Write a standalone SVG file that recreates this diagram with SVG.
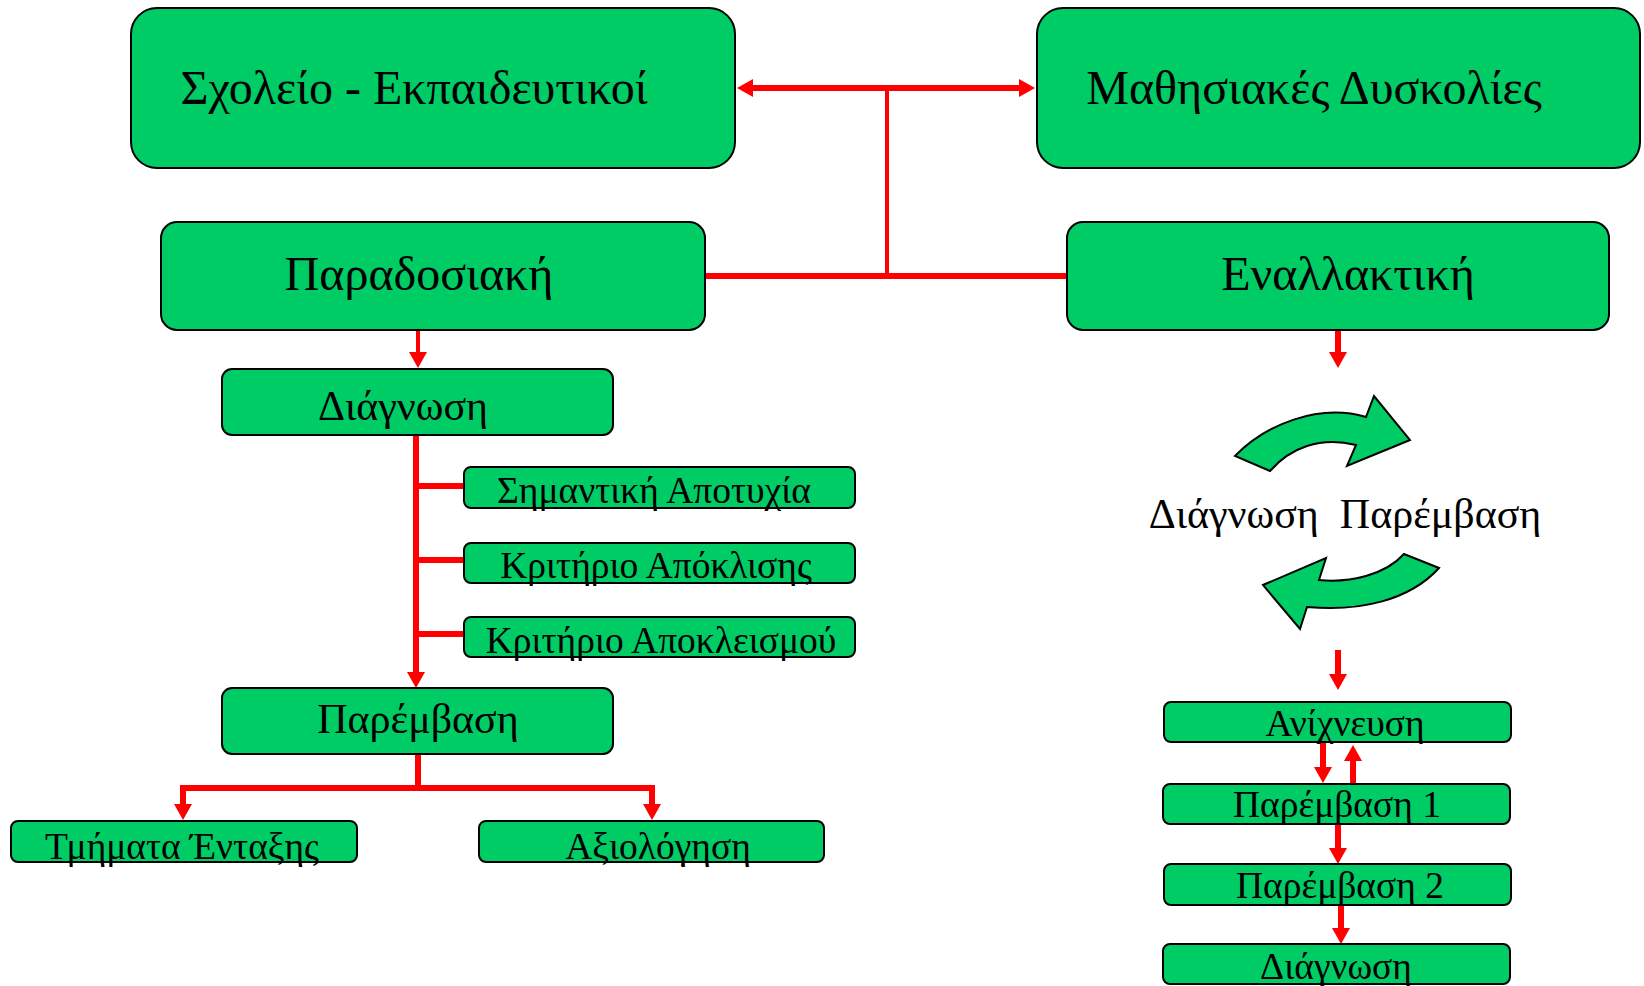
<svg xmlns="http://www.w3.org/2000/svg" width="1644" height="986" viewBox="0 0 1644 986">
<defs>
<style>
.box{fill:#00CC66;stroke:#000;stroke-width:2}
.t{font-family:"Liberation Serif","Times New Roman",serif;fill:#000;text-anchor:middle}
.big{font-size:48px}
.mid{font-size:42px}
.sm{font-size:37.5px}
.c{fill:none;stroke:#FF0000;stroke-linecap:butt}
.w6{stroke-width:6}
.w4{stroke-width:4}
.ar{fill:#00CC66;stroke:#000;stroke-width:2;stroke-linejoin:miter}
</style>
<marker id="ah" viewBox="0 0 16 18" refX="0" refY="9" markerWidth="16" markerHeight="18" markerUnits="userSpaceOnUse" orient="auto">
<path d="M0,0 L16,9 L0,18 z" fill="#FF0000"/>
</marker>
</defs>
<rect width="1644" height="986" fill="#fff"/>

<g id="connectors">
<path class="c w6" d="M753,88 L1019,88" marker-end="url(#ah)"/>
<path class="c w6" d="M1019,88 L753,88" marker-end="url(#ah)"/>
<path class="c w4" d="M887,88 L887,276"/>
<path class="c w6" d="M705,276 L1067,276"/>
<path class="c w4" d="M418,330 L418,352" marker-end="url(#ah)"/>
<path class="c w6" d="M416,436 L416,672" marker-end="url(#ah)"/>
<path class="c w6" d="M416,486 L464,486"/>
<path class="c w6" d="M416,560 L464,560"/>
<path class="c w6" d="M416,634 L464,634"/>
<path class="c w6" d="M418,754 L418,788"/>
<path class="c w6" d="M183,788 L652,788"/>
<path class="c w6" d="M183,785 L183,804" marker-end="url(#ah)"/>
<path class="c w6" d="M652,785 L652,804" marker-end="url(#ah)"/>
<path class="c w6" d="M1338,330 L1338,352" marker-end="url(#ah)"/>
<path class="c w6" d="M1338,650 L1338,674" marker-end="url(#ah)"/>
<path class="c w6" d="M1323,742 L1323,767" marker-end="url(#ah)"/>
<path class="c w6" d="M1353,784 L1353,761" marker-end="url(#ah)"/>
<path class="c w6" d="M1338,824 L1338,848" marker-end="url(#ah)"/>
<path class="c w6" d="M1341,905 L1341,928" marker-end="url(#ah)"/>
</g>

<g id="cycle">
<path class="ar" d="M1235,456 C1265,425 1318,403 1366,417 L1374,396 L1410,440 L1347,466 L1356,445 C1320,436 1290,448 1270,471 Z"/>
<path class="ar" d="M1439,568 C1410,600 1360,612 1307,607 L1300,629 L1263,585 L1326,558 L1319,580 C1350,583 1385,575 1404,554 Z"/>
<text class="t" x="1345" y="528" style="font-size:42px" xml:space="preserve">Διάγνωση  Παρέμβαση</text>
</g>

<g id="n-school">
<rect class="box" x="131" y="8" width="604" height="160" rx="26"/>
<text class="t big" x="414" y="104">Σχολείο - Εκπαιδευτικοί</text>
</g>
<g id="n-learning">
<rect class="box" x="1037" y="8" width="603" height="160" rx="26"/>
<text class="t big" x="1314" y="104">Μαθησιακές Δυσκολίες</text>
</g>
<g id="n-traditional">
<rect class="box" x="161" y="222" width="544" height="108" rx="16"/>
<text class="t big" x="419" y="290">Παραδοσιακή</text>
</g>
<g id="n-alternative">
<rect class="box" x="1067" y="222" width="542" height="108" rx="16"/>
<text class="t big" x="1348" y="290">Εναλλακτική</text>
</g>
<g id="n-diagnosis">
<rect class="box" x="222" y="369" width="391" height="66" rx="10"/>
<text class="t mid" x="403" y="420">Διάγνωση</text>
</g>
<g id="n-failure">
<rect class="box" x="464" y="467" width="391" height="41" rx="7"/>
<text class="t sm" x="654" y="503">Σημαντική Αποτυχία</text>
</g>
<g id="n-deviation">
<rect class="box" x="464" y="543" width="391" height="40" rx="7"/>
<text class="t sm" x="656" y="578">Κριτήριο Απόκλισης</text>
</g>
<g id="n-exclusion">
<rect class="box" x="464" y="617" width="391" height="40" rx="7"/>
<text class="t sm" x="661" y="653">Κριτήριο Αποκλεισμού</text>
</g>
<g id="n-intervention">
<rect class="box" x="222" y="688" width="391" height="66" rx="10"/>
<text class="t mid" x="418" y="733">Παρέμβαση</text>
</g>
<g id="n-units">
<rect class="box" x="11" y="821" width="346" height="41" rx="7"/>
<text class="t sm" x="182" y="859">Τμήματα Ένταξης</text>
</g>
<g id="n-evaluation">
<rect class="box" x="479" y="821" width="345" height="41" rx="7"/>
<text class="t sm" x="658" y="859">Αξιολόγηση</text>
</g>
<g id="n-detection">
<rect class="box" x="1164" y="702" width="347" height="40" rx="7"/>
<text class="t sm" x="1345" y="736">Ανίχνευση</text>
</g>
<g id="n-int1">
<rect class="box" x="1163" y="784" width="347" height="40" rx="7"/>
<text class="t sm" x="1337" y="817">Παρέμβαση 1</text>
</g>
<g id="n-int2">
<rect class="box" x="1164" y="864" width="347" height="41" rx="7"/>
<text class="t sm" x="1340" y="898">Παρέμβαση 2</text>
</g>
<g id="n-diag2">
<rect class="box" x="1163" y="944" width="347" height="40" rx="7"/>
<text class="t sm" x="1336" y="979">Διάγνωση</text>
</g>
</svg>
